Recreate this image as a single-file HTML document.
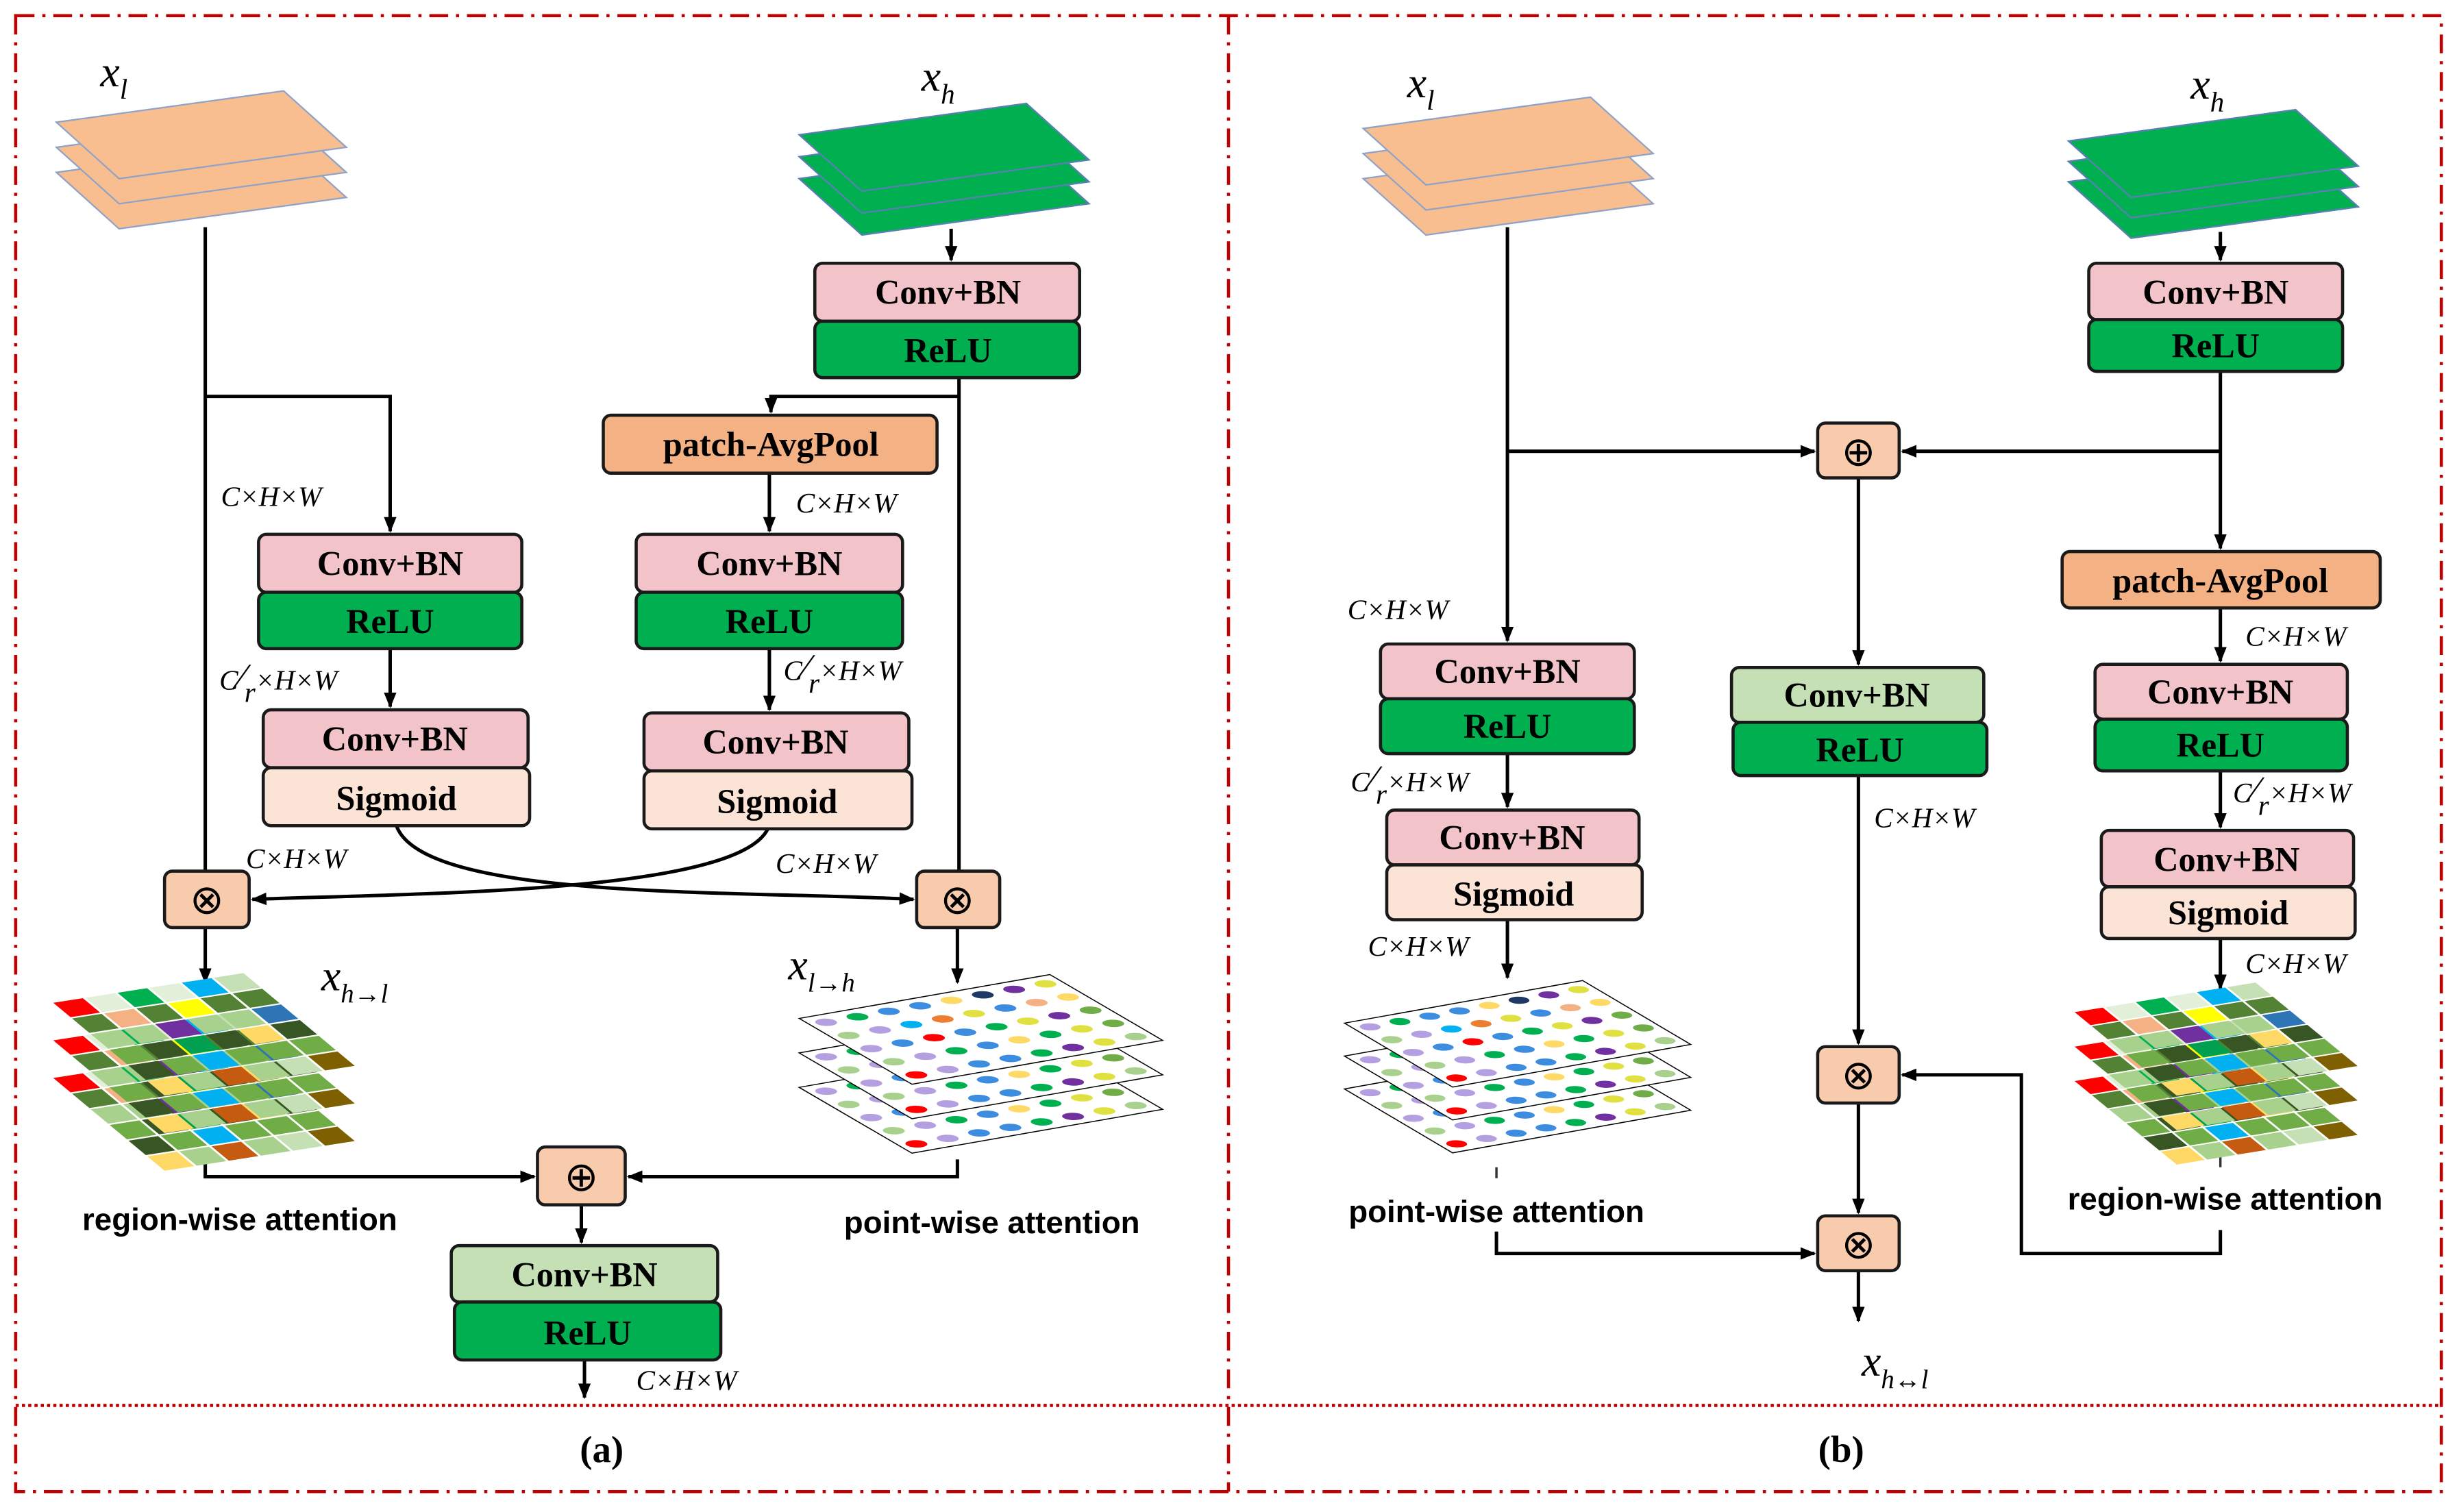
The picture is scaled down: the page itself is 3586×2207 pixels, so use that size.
<!DOCTYPE html>
<html><head><meta charset="utf-8"><style>
html,body{margin:0;padding:0;background:#fff;}
svg{display:block;}
.bx{stroke:#1a1a1a;stroke-width:2;}
.lb{font-family:"Liberation Serif",serif;font-weight:bold;font-size:22px;text-anchor:middle;}
.dim{font-family:"Liberation Serif",serif;font-style:italic;font-size:18px;}
.att{font-family:"Liberation Sans",sans-serif;font-size:20px;font-weight:600;text-anchor:middle;}
.xl{font-family:"Liberation Serif",serif;font-style:italic;font-size:28px;}
.ln{stroke:#000;stroke-width:2.2;fill:none;}
</style></head><body>
<svg width="3586" height="2207" viewBox="0 0 1568 965" xmlns="http://www.w3.org/2000/svg">
<defs>
<marker id="ar" markerWidth="10" markerHeight="10" refX="9" refY="5" orient="auto" markerUnits="userSpaceOnUse"><path d="M0,1 L10,5 L0,9 Z" fill="#000"/></marker>
<g id="orl"><polygon points="0,20 145,0 185,36 40,56" fill="#F9BE8F" stroke="#8FA3C8" stroke-width="1"/></g>
<g id="grl"><polygon points="0,20 145,0 185,36 40,56" fill="#00B050" stroke="#5B7FB5" stroke-width="1"/></g>
<g id="rg">
<rect x="0" y="0" width=".92" height=".92" fill="#FF0000"/><rect x="1" y="0" width=".92" height=".92" fill="#E2F0D9"/><rect x="2" y="0" width=".92" height=".92" fill="#00B050"/><rect x="3" y="0" width=".92" height=".92" fill="#E2F0D9"/><rect x="4" y="0" width=".92" height=".92" fill="#00B0F0"/><rect x="5" y="0" width=".92" height=".92" fill="#C5E0B4"/>
<rect x="0" y="1" width=".92" height=".92" fill="#548235"/><rect x="1" y="1" width=".92" height=".92" fill="#F4B183"/><rect x="2" y="1" width=".92" height=".92" fill="#548235"/><rect x="3" y="1" width=".92" height=".92" fill="#FFFF00"/><rect x="4" y="1" width=".92" height=".92" fill="#548235"/><rect x="5" y="1" width=".92" height=".92" fill="#548235"/>
<rect x="0" y="2" width=".92" height=".92" fill="#A9D18E"/><rect x="1" y="2" width=".92" height=".92" fill="#A9D18E"/><rect x="2" y="2" width=".92" height=".92" fill="#7030A0"/><rect x="3" y="2" width=".92" height=".92" fill="#A9D18E"/><rect x="4" y="2" width=".92" height=".92" fill="#A9D18E"/><rect x="5" y="2" width=".92" height=".92" fill="#2E75B6"/>
<rect x="0" y="3" width=".92" height=".92" fill="#70AD47"/><rect x="1" y="3" width=".92" height=".92" fill="#375623"/><rect x="2" y="3" width=".92" height=".92" fill="#00A050"/><rect x="3" y="3" width=".92" height=".92" fill="#375623"/><rect x="4" y="3" width=".92" height=".92" fill="#FFD966"/><rect x="5" y="3" width=".92" height=".92" fill="#375623"/>
<rect x="0" y="4" width=".92" height=".92" fill="#375623"/><rect x="1" y="4" width=".92" height=".92" fill="#70AD47"/><rect x="2" y="4" width=".92" height=".92" fill="#00B0F0"/><rect x="3" y="4" width=".92" height=".92" fill="#70AD47"/><rect x="4" y="4" width=".92" height=".92" fill="#70AD47"/><rect x="5" y="4" width=".92" height=".92" fill="#70AD47"/>
<rect x="0" y="5" width=".92" height=".92" fill="#FFD966"/><rect x="1" y="5" width=".92" height=".92" fill="#A9D18E"/><rect x="2" y="5" width=".92" height=".92" fill="#C55A11"/><rect x="3" y="5" width=".92" height=".92" fill="#A9D18E"/><rect x="4" y="5" width=".92" height=".92" fill="#C5E0B4"/><rect x="5" y="5" width=".92" height=".92" fill="#7F6000"/>
</g>
<g id="pg">
<rect x="0" y="0" width="8" height="6" fill="#fff" stroke="#000" stroke-width="1.5" vector-effect="non-scaling-stroke"/>
<g>
<circle cx=".5" cy=".6" r=".3" fill="#B4A0E0"/><circle cx="1.5" cy=".6" r=".3" fill="#00B050"/><circle cx="2.5" cy=".6" r=".3" fill="#3C8CE0"/><circle cx="3.5" cy=".6" r=".3" fill="#3C8CE0"/><circle cx="4.5" cy=".6" r=".3" fill="#FFD966"/><circle cx="5.5" cy=".6" r=".3" fill="#1F3864"/><circle cx="6.5" cy=".6" r=".3" fill="#7030A0"/><circle cx="7.5" cy=".6" r=".3" fill="#E0E040"/>
<circle cx=".5" cy="1.8" r=".3" fill="#A9D18E"/><circle cx="1.5" cy="1.8" r=".3" fill="#B4A0E0"/><circle cx="2.5" cy="1.8" r=".3" fill="#00B0F0"/><circle cx="3.5" cy="1.8" r=".3" fill="#ED7D31"/><circle cx="4.5" cy="1.8" r=".3" fill="#E0E040"/><circle cx="5.5" cy="1.8" r=".3" fill="#3C8CE0"/><circle cx="6.5" cy="1.8" r=".3" fill="#F4B183"/><circle cx="7.5" cy="1.8" r=".3" fill="#FFD966"/>
<circle cx=".5" cy="3" r=".3" fill="#B4A0E0"/><circle cx="1.5" cy="3" r=".3" fill="#3C8CE0"/><circle cx="2.5" cy="3" r=".3" fill="#FF0000"/><circle cx="3.5" cy="3" r=".3" fill="#3C8CE0"/><circle cx="4.5" cy="3" r=".3" fill="#00B050"/><circle cx="5.5" cy="3" r=".3" fill="#E0E040"/><circle cx="6.5" cy="3" r=".3" fill="#7030A0"/><circle cx="7.5" cy="3" r=".3" fill="#70AD47"/>
<circle cx=".5" cy="4.2" r=".3" fill="#A9D18E"/><circle cx="1.5" cy="4.2" r=".3" fill="#B4A0E0"/><circle cx="2.5" cy="4.2" r=".3" fill="#00B050"/><circle cx="3.5" cy="4.2" r=".3" fill="#3C8CE0"/><circle cx="4.5" cy="4.2" r=".3" fill="#FFD966"/><circle cx="5.5" cy="4.2" r=".3" fill="#00B050"/><circle cx="6.5" cy="4.2" r=".3" fill="#E0E040"/><circle cx="7.5" cy="4.2" r=".3" fill="#70AD47"/>
<circle cx=".5" cy="5.4" r=".3" fill="#FF0000"/><circle cx="1.5" cy="5.4" r=".3" fill="#B4A0E0"/><circle cx="2.5" cy="5.4" r=".3" fill="#3C8CE0"/><circle cx="3.5" cy="5.4" r=".3" fill="#3C8CE0"/><circle cx="4.5" cy="5.4" r=".3" fill="#00B050"/><circle cx="5.5" cy="5.4" r=".3" fill="#7030A0"/><circle cx="6.5" cy="5.4" r=".3" fill="#E0E040"/><circle cx="7.5" cy="5.4" r=".3" fill="#A9D18E"/>
</g>
</g>
</defs>

<rect x="10" y="10" width="1548" height="942" fill="none" stroke="#C00000" stroke-width="2" stroke-dasharray="12,5,2,5"/>
<line x1="784" y1="10" x2="784" y2="952" stroke="#C00000" stroke-width="2" stroke-dasharray="12,5,2,5"/>
<line x1="10" y1="897" x2="1558" y2="897" stroke="#C00000" stroke-width="2" stroke-dasharray="2,2"/>

<!-- ===== (a) ===== -->
<use href="#orl" x="36" y="90"/><use href="#orl" x="36" y="74"/><use href="#orl" x="36" y="58"/>
<text class="xl" x="64" y="55">x<tspan font-size="18" dy="8">l</tspan></text>
<use href="#grl" x="510" y="94"/><use href="#grl" x="510" y="80"/><use href="#grl" x="510" y="66"/>
<text class="xl" x="588" y="58">x<tspan font-size="18" dy="8">h</tspan></text>

<path class="ln" d="M131,145 V564" marker-end="url(#ar)"/>
<path class="ln" d="M131,253 H249 V339" marker-end="url(#ar)"/>
<path class="ln" d="M607,146 V166" marker-end="url(#ar)"/>
<path class="ln" d="M612,241 V564" marker-end="url(#ar)"/>
<path class="ln" d="M612,253 H492 V263" marker-end="url(#ar)"/>
<path class="ln" d="M491,302 V339" marker-end="url(#ar)"/>
<path class="ln" d="M249,414 V451" marker-end="url(#ar)"/>
<path class="ln" d="M491,414 V453" marker-end="url(#ar)"/>
<path class="ln" d="M253,527 C270,575 470,568 583,574" marker-end="url(#ar)"/>
<path class="ln" d="M490,529 C470,570 270,570 161,574" marker-end="url(#ar)"/>
<path class="ln" d="M131,592 V627" marker-end="url(#ar)"/>
<path class="ln" d="M611,592 V627" marker-end="url(#ar)"/>
<path class="ln" d="M131,735 V751 H341" marker-end="url(#ar)"/>
<path class="ln" d="M611,740 V751 H401" marker-end="url(#ar)"/>
<path class="ln" d="M371,769 V793" marker-end="url(#ar)"/>
<path class="ln" d="M373,868 V892" marker-end="url(#ar)"/>

<rect class="bx" x="520" y="168" width="169" height="37" rx="5" fill="#F2C4C9"/><text class="lb" x="605" y="194">Conv+BN</text>
<rect class="bx" x="520" y="205" width="169" height="36" rx="5" fill="#00B050"/><text class="lb" x="605" y="231">ReLU</text>
<rect class="bx" x="385" y="265" width="213" height="37" rx="5" fill="#F4B183"/><text class="lb" x="492" y="291">patch-AvgPool</text>
<rect class="bx" x="165" y="341" width="168" height="37" rx="5" fill="#F2C4C9"/><text class="lb" x="249" y="367">Conv+BN</text>
<rect class="bx" x="165" y="378" width="168" height="36" rx="5" fill="#00B050"/><text class="lb" x="249" y="404">ReLU</text>
<rect class="bx" x="406" y="341" width="170" height="37" rx="5" fill="#F2C4C9"/><text class="lb" x="491" y="367">Conv+BN</text>
<rect class="bx" x="406" y="378" width="170" height="36" rx="5" fill="#00B050"/><text class="lb" x="491" y="404">ReLU</text>
<rect class="bx" x="168" y="453" width="169" height="37" rx="5" fill="#F2C4C9"/><text class="lb" x="252" y="479">Conv+BN</text>
<rect class="bx" x="168" y="490" width="170" height="37" rx="5" fill="#FBE3D6"/><text class="lb" x="253" y="517">Sigmoid</text>
<rect class="bx" x="411" y="455" width="169" height="37" rx="5" fill="#F2C4C9"/><text class="lb" x="495" y="481">Conv+BN</text>
<rect class="bx" x="411" y="492" width="171" height="37" rx="5" fill="#FBE3D6"/><text class="lb" x="496" y="519">Sigmoid</text>

<rect class="bx" x="105" y="556" width="54" height="36" rx="5" fill="#F8CBAD"/><text x="132" y="583" font-size="26" text-anchor="middle" font-family="DejaVu Sans">⊗</text>
<rect class="bx" x="585" y="556" width="53" height="36" rx="5" fill="#F8CBAD"/><text x="611" y="583" font-size="26" text-anchor="middle" font-family="DejaVu Sans">⊗</text>
<rect class="bx" x="343" y="732" width="56" height="37" rx="5" fill="#F8CBAD"/><text x="371" y="760" font-size="26" text-anchor="middle" font-family="DejaVu Sans">⊕</text>

<text class="dim" x="141" y="323">C×H×W</text>
<text class="dim" x="508" y="327">C×H×W</text>
<text class="dim" x="140" y="440">C<tspan font-style="normal" font-size="24">⁄</tspan><tspan dy="8">r</tspan><tspan dy="-8">×H×W</tspan></text>
<text class="dim" x="500" y="434">C<tspan font-style="normal" font-size="24">⁄</tspan><tspan dy="8">r</tspan><tspan dy="-8">×H×W</tspan></text>
<text class="dim" x="157" y="554">C×H×W</text>
<text class="dim" x="495" y="557">C×H×W</text>
<text class="dim" x="406" y="887">C×H×W</text>

<g transform="matrix(20.5,-3.2,12,10,34,688)"><use href="#rg"/></g>
<g transform="matrix(20.5,-3.2,12,10,34,664)"><use href="#rg"/></g>
<g transform="matrix(20.5,-3.2,12,10,34,640)"><use href="#rg"/></g>
<text class="xl" x="205" y="632">x<tspan font-size="17" dy="8">h→l</tspan></text>

<g transform="matrix(20,-3.5,12,7,510,694)"><use href="#pg"/></g>
<g transform="matrix(20,-3.5,12,7,510,672)"><use href="#pg"/></g>
<g transform="matrix(20,-3.5,12,7,510,650)"><use href="#pg"/></g>
<text class="xl" x="503" y="625">x<tspan font-size="17" dy="8">l→h</tspan></text>

<text class="att" x="153" y="785">region-wise attention</text>
<text class="att" x="633" y="787">point-wise attention</text>

<rect class="bx" x="288" y="795" width="170" height="36" rx="5" fill="#C5E0B4"/><text class="lb" x="373" y="821">Conv+BN</text>
<rect class="bx" x="290" y="831" width="170" height="37" rx="5" fill="#00B050"/><text class="lb" x="375" y="858">ReLU</text>
<text x="384" y="933" font-family="Liberation Serif,serif" font-weight="bold" font-size="24" text-anchor="middle">(a)</text>

<!-- ===== (b) ===== -->
<use href="#orl" x="870" y="94"/><use href="#orl" x="870" y="78"/><use href="#orl" x="870" y="62"/>
<text class="xl" x="898" y="62">x<tspan font-size="18" dy="8">l</tspan></text>
<use href="#grl" x="1320" y="96"/><use href="#grl" x="1320" y="83"/><use href="#grl" x="1320" y="70"/>
<text class="xl" x="1398" y="63">x<tspan font-size="18" dy="8">h</tspan></text>

<path class="ln" d="M962,145 V409" marker-end="url(#ar)"/>
<path class="ln" d="M962,288 H1158" marker-end="url(#ar)"/>
<path class="ln" d="M1417,148 V166" marker-end="url(#ar)"/>
<path class="ln" d="M1417,237 V350" marker-end="url(#ar)"/>
<path class="ln" d="M1417,288 H1214" marker-end="url(#ar)"/>
<path class="ln" d="M1186,305 V424" marker-end="url(#ar)"/>
<path class="ln" d="M1186,495 V666" marker-end="url(#ar)"/>
<path class="ln" d="M1186,704 V774" marker-end="url(#ar)"/>
<path class="ln" d="M1186,811 V843" marker-end="url(#ar)"/>
<path class="ln" d="M962,481 V515" marker-end="url(#ar)"/>
<path class="ln" d="M962,587 V624" marker-end="url(#ar)"/>
<path class="ln" d="M1417,388 V422" marker-end="url(#ar)"/>
<path class="ln" d="M1417,492 V528" marker-end="url(#ar)"/>
<path class="ln" d="M1417,599 V631" marker-end="url(#ar)"/>
<path class="ln" d="M955,786 V800 H1158" marker-end="url(#ar)"/>
<path class="ln" d="M1417,785 V800 H1290 V686 H1214" marker-end="url(#ar)"/>
<line x1="955" y1="745" x2="955" y2="752" stroke="#333" stroke-width="1.5"/>
<line x1="1417" y1="735" x2="1417" y2="745" stroke="#333" stroke-width="1.5"/>

<rect class="bx" x="1333" y="168" width="162" height="36" rx="5" fill="#F2C4C9"/><text class="lb" x="1414" y="194">Conv+BN</text>
<rect class="bx" x="1333" y="204" width="162" height="33" rx="5" fill="#00B050"/><text class="lb" x="1414" y="228">ReLU</text>
<rect class="bx" x="1316" y="352" width="203" height="36" rx="5" fill="#F4B183"/><text class="lb" x="1417" y="378">patch-AvgPool</text>
<rect class="bx" x="1160" y="270" width="52" height="35" rx="5" fill="#F8CBAD"/><text x="1186" y="297" font-size="26" text-anchor="middle" font-family="DejaVu Sans">⊕</text>
<rect class="bx" x="1105" y="426" width="161" height="35" rx="5" fill="#C5E0B4"/><text class="lb" x="1185" y="451">Conv+BN</text>
<rect class="bx" x="1106" y="461" width="162" height="34" rx="5" fill="#00B050"/><text class="lb" x="1187" y="486">ReLU</text>
<rect class="bx" x="1160" y="668" width="52" height="36" rx="5" fill="#F8CBAD"/><text x="1186" y="695" font-size="26" text-anchor="middle" font-family="DejaVu Sans">⊗</text>
<rect class="bx" x="1160" y="776" width="52" height="35" rx="5" fill="#F8CBAD"/><text x="1186" y="803" font-size="26" text-anchor="middle" font-family="DejaVu Sans">⊗</text>
<text class="xl" x="1188" y="878">x<tspan font-size="17" dy="8">h↔l</tspan></text>

<rect class="bx" x="881" y="411" width="162" height="35" rx="5" fill="#F2C4C9"/><text class="lb" x="962" y="436">Conv+BN</text>
<rect class="bx" x="881" y="446" width="162" height="35" rx="5" fill="#00B050"/><text class="lb" x="962" y="471">ReLU</text>
<rect class="bx" x="885" y="517" width="161" height="35" rx="5" fill="#F2C4C9"/><text class="lb" x="965" y="542">Conv+BN</text>
<rect class="bx" x="885" y="552" width="163" height="35" rx="5" fill="#FBE3D6"/><text class="lb" x="966" y="578">Sigmoid</text>
<rect class="bx" x="1337" y="424" width="161" height="35" rx="5" fill="#F2C4C9"/><text class="lb" x="1417" y="449">Conv+BN</text>
<rect class="bx" x="1337" y="459" width="161" height="33" rx="5" fill="#00B050"/><text class="lb" x="1417" y="483">ReLU</text>
<rect class="bx" x="1341" y="530" width="161" height="36" rx="5" fill="#F2C4C9"/><text class="lb" x="1421" y="556">Conv+BN</text>
<rect class="bx" x="1341" y="566" width="162" height="33" rx="5" fill="#FBE3D6"/><text class="lb" x="1422" y="590">Sigmoid</text>

<text class="dim" x="860" y="395">C×H×W</text>
<text class="dim" x="862" y="505">C<tspan font-style="normal" font-size="24">⁄</tspan><tspan dy="8">r</tspan><tspan dy="-8">×H×W</tspan></text>
<text class="dim" x="873" y="610">C×H×W</text>
<text class="dim" x="1196" y="528">C×H×W</text>
<text class="dim" x="1433" y="412">C×H×W</text>
<text class="dim" x="1425" y="512">C<tspan font-style="normal" font-size="24">⁄</tspan><tspan dy="8">r</tspan><tspan dy="-8">×H×W</tspan></text>
<text class="dim" x="1433" y="621">C×H×W</text>

<g transform="matrix(19,-3.4,11.5,6.8,858,695)"><use href="#pg"/></g>
<g transform="matrix(19,-3.4,11.5,6.8,858,674)"><use href="#pg"/></g>
<g transform="matrix(19,-3.4,11.5,6.8,858,653)"><use href="#pg"/></g>

<g transform="matrix(19.5,-3.2,11,9,1324,690)"><use href="#rg"/></g>
<g transform="matrix(19.5,-3.2,11,9,1324,668)"><use href="#rg"/></g>
<g transform="matrix(19.5,-3.2,11,9,1324,646)"><use href="#rg"/></g>

<text class="att" x="955" y="780">point-wise attention</text>
<text class="att" x="1420" y="772">region-wise attention</text>
<text x="1175" y="933" font-family="Liberation Serif,serif" font-weight="bold" font-size="24" text-anchor="middle">(b)</text>
</svg>
</body></html>
